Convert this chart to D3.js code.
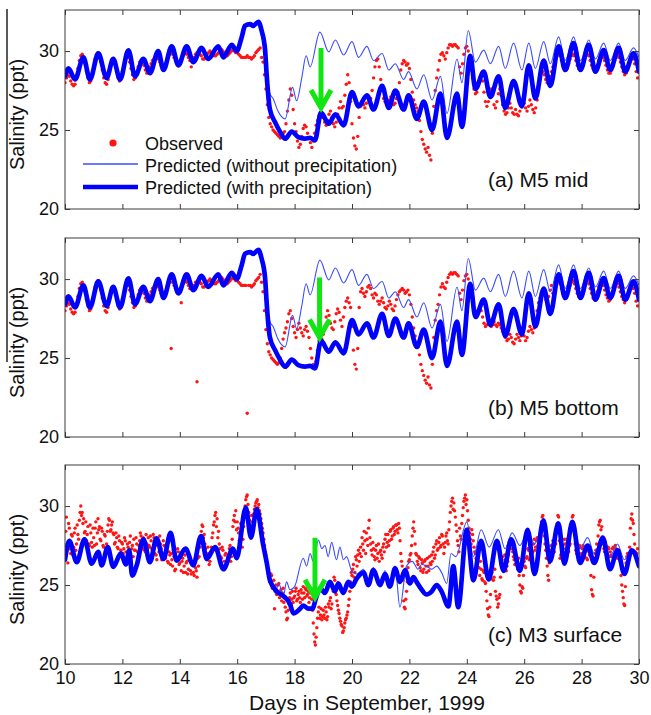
<!DOCTYPE html>
<html>
<head>
<meta charset="utf-8">
<script src="https://cdn.jsdelivr.net/npm/d3@7"></script>
<style>
  body { margin: 0; background: #fff; }
  text { font-family: Arial, "Liberation Sans", sans-serif; fill: #111; }
</style>
</head>
<body>
<svg id="chart" width="651" height="715"></svg>
<script>
// ---------------------------------------------------------------
// Observed salinity (ppt), sampled every 0.05 day from day 10.00
// ---------------------------------------------------------------
const obsStart = 10, obsStep = 0.05;

const obsM5Mid = [
  28.0,28.3,28.5,28.4,28.1,27.9,27.8,27.9,28.3,28.9,29.4,29.7,29.8,29.6,29.2,28.7,28.3,28.0,28.1,28.5, // 10
  29.0,29.5,29.8,29.9,29.7,29.3,28.8,28.3,28.0,27.9,28.2,28.7,29.2,29.5,29.5,29.2,28.7,28.3,28.1,28.3, // 11
  28.7,29.1,29.4,29.6,29.6,29.3,28.9,28.5,28.2,28.3,28.6,29.0,29.3,29.4,29.3,29.1,28.8,28.6,28.7,29.0, // 12
  29.2,29.4,29.5,29.6,29.6,29.5,29.3,29.1,28.9,29.0,29.2,29.5,29.7,29.8,29.9,29.8,29.6,29.4,29.3,29.2, // 13
  29.3,29.5,29.7,29.8,29.9,29.8,29.6,29.4,29.0,29.5,29.6,29.8,29.9,29.9,29.8,29.7,29.5,29.5,29.6,29.8, // 14
  29.9,30.0,29.9,29.8,29.7,29.7,29.8,29.9,30.0,30.1,30.0,29.9,29.8,29.7,29.8,29.9,30.0,30.1,30.0,29.9, // 15
  29.9,29.8,29.7,29.6,29.6,29.6,29.6,29.7,29.6,29.6,29.5,29.6,29.7,29.9,30.0,30.1,30.2,29.6,29.3,28.5, // 16
  27.6,26.6,25.8,25.4,25.2,25.0,24.9,24.8,24.7,24.6,24.5,24.6,24.8,24.9,25.4,26.2,26.9,27.6,27.2,26.3, // 17
  25.4,24.9,24.3,23.9,24.1,24.6,25.1,25.3,25.2,24.8,24.5,24.2,23.9,24.3,24.8,25.3,25.6,25.9,26.1,25.8, // 18
  25.8,25.5,25.3,25.6,26.0,26.2,25.8,25.4,25.2,25.5,26.0,26.4,26.8,26.4,26.5,27.2,27.9,28.5,28.0,26.8, // 19
  25.4,24.5,24.0,23.8,24.6,25.8,26.5,26.8,26.6,26.4,26.7,27.1,26.8,27.0,27.5,28.3,29.0,29.4,29.5,29.0, // 20
  28.2,27.5,27.0,26.8,26.7,26.8,26.9,27.1,26.9,26.6,26.7,27.0,27.4,28.0,28.8,29.2,29.4,29.3,29.1,29.2, // 21
  28.9,28.2,27.4,26.9,26.6,26.4,26.2,25.6,24.9,24.4,24.1,23.8,23.6,23.9,23.4,23.1,24.8,26.5,27.5,28.3, // 22
  28.8,29.4,29.8,29.9,29.7,29.5,29.9,30.2,30.4,30.4,30.3,30.4,30.4,30.3,30.2,29.0,28.6,29.2,29.8,30.2, // 23
  30.3,30.0,29.4,28.8,28.3,27.6,27.3,27.4,27.8,28.3,28.5,28.1,27.4,26.8,26.5,26.8,27.3,27.6,27.2,26.6, // 24
  26.4,26.8,27.3,27.6,27.2,26.6,26.2,26.0,26.1,26.4,26.7,26.4,26.1,26.0,26.3,26.0,25.9,26.2,26.6,26.9, // 25
  26.7,26.4,26.2,26.5,26.9,26.6,26.3,26.1,26.4,26.9,27.6,28.2,28.6,28.7,28.5,28.2,28.0,28.1,28.4,28.7, // 26
  29.0,29.2,29.5,29.7,29.8,29.7,29.4,29.1,28.9,28.8,28.9,29.2,29.5,29.7,29.8,29.7,29.4,29.1,28.9,28.8, // 27
  28.9,29.2,29.5,29.7,29.8,29.7,29.4,29.1,28.9,28.7,28.8,29.1,29.4,29.6,29.7,29.6,29.4,29.1,28.8,28.6, // 28
  28.6,28.8,29.1,29.4,29.6,29.7,29.6,29.3,29.0,28.7,28.5,28.6,28.9,29.2,29.5,29.6,29.5,29.2,28.7,28.3  // 29
];

const obsM5Bottom = [
  28.0,28.3,28.5,28.4,28.1,27.9,27.8,27.9,28.3,28.9,29.4,29.7,29.8,29.6,29.2,28.7,28.3,28.0,28.1,28.5, // 10
  29.0,29.5,29.8,29.9,29.7,29.3,28.8,28.3,28.0,27.9,28.2,28.7,29.2,29.5,29.5,29.2,28.7,28.3,28.1,28.3, // 11
  28.7,29.1,29.4,29.6,29.6,29.3,28.9,28.5,28.2,28.3,28.6,29.0,29.3,29.4,29.3,29.1,28.8,28.6,28.7,29.0, // 12
  29.2,29.4,29.5,29.6,29.6,29.5,29.3,29.1,28.9,29.0,29.2,29.5,29.7,29.8,25.6,29.8,29.6,29.4,29.3,29.2, // 13
  29.3,28.5,29.7,29.8,29.9,29.8,29.6,29.4,29.5,29.5,29.6,29.8,23.5,29.9,29.8,29.7,29.5,29.5,29.6,29.8, // 14
  29.9,30.0,29.9,29.8,29.7,29.7,29.8,29.9,30.0,30.1,30.0,29.9,29.8,29.7,29.8,29.9,30.0,30.1,30.0,29.9, // 15
  29.9,29.8,29.7,29.6,29.6,29.6,29.6,21.5,29.6,29.6,29.5,29.6,29.7,29.9,30.0,30.1,30.3,29.8,29.2,28.0, // 16
  26.8,25.9,25.4,25.2,25.0,24.9,24.8,24.7,24.6,24.7,25.0,25.6,26.2,26.6,26.9,27.3,27.8,28.0,27.5,27.0, // 17
  26.6,26.3,26.8,27.2,26.9,26.6,26.4,26.8,27.0,26.7,26.3,25.6,25.0,24.6,24.4,24.8,25.5,26.1,26.4,26.2, // 18
  26.5,27.0,27.6,28.0,27.7,27.2,26.9,26.8,27.3,27.8,28.1,27.9,27.4,27.0,27.6,28.2,28.6,28.8,28.5,28.2, // 19
  27.0,25.5,24.6,24.3,25.6,28.2,29.2,29.4,29.1,28.9,29.2,29.5,29.6,29.4,29.0,28.8,29.1,29.0,28.6,28.4, // 20
  28.6,28.8,28.5,28.2,28.1,28.3,28.6,28.4,28.1,28.0,28.3,28.7,29.0,29.2,29.3,29.4,29.3,29.1,29.2,29.3, // 21
  29.0,28.4,27.6,26.9,26.4,26.0,25.7,25.2,24.6,24.2,23.9,23.6,23.4,23.8,23.3,23.1,24.6,26.3,27.4,28.0, // 22
  28.4,29.0,29.5,29.7,29.5,29.4,29.8,30.1,30.3,30.4,30.3,30.4,30.4,30.3,30.2,29.1,28.7,29.3,29.9,30.2, // 23
  30.3,30.0,29.5,29.0,28.6,28.0,27.7,27.6,27.9,28.2,28.0,27.6,27.2,27.0,27.1,27.3,27.2,27.0,27.1,27.3, // 24
  27.1,27.0,27.2,27.1,26.9,26.7,26.5,26.3,26.1,26.2,26.5,26.3,26.0,25.9,26.2,26.5,26.3,26.1,26.4,26.7, // 25
  26.4,26.1,26.3,26.7,27.0,26.8,26.6,26.9,27.4,28.0,28.5,28.8,29.1,29.3,29.0,28.7,28.6,28.9,29.3,29.6, // 26
  29.1,29.3,29.6,29.8,29.9,29.7,29.4,29.1,28.9,28.8,29.0,29.3,29.6,29.8,29.9,29.7,29.4,29.1,28.9,28.8, // 27
  29.0,29.3,29.6,29.8,29.9,29.7,29.4,29.1,28.8,28.7,28.9,29.2,29.5,29.7,29.8,29.6,29.3,29.0,28.8,28.6, // 28
  28.7,28.9,29.2,29.5,29.7,29.7,29.5,29.2,28.9,28.7,28.5,28.7,29.0,29.3,29.5,29.6,29.4,29.1,28.6,28.3  // 29
];

// M3 surface is logged twice as often: samples on the 0.05-day grid ...
const obsM3Surface = [
  27.2,29.3,26.4,28.6,27.0,28.1,27.4,28.6,27.6,28.2,29.1,30.0,29.6,29.2,28.4,27.8,28.7,27.5,28.3,27.4, // 10
  28.0,28.6,27.6,29.2,28.7,27.8,28.4,27.4,28.1,27.6,28.8,29.1,28.5,29.0,28.2,27.7,28.0,27.3,27.8,27.2, // 11
  27.6,27.3,27.8,26.6,27.4,27.7,26.2,27.5,27.9,27.2,27.6,26.8,27.8,28.1,27.3,27.9,27.1,27.6,28.0,27.4, // 12
  27.8,27.2,28.0,27.5,26.6,27.7,28.1,27.3,26.9,27.5,26.7,27.2,26.4,26.9,27.0,26.2,26.8,26.0,26.6,27.1, // 13
  26.4,25.9,26.7,26.2,25.8,26.5,26.0,26.8,25.7,26.3,25.6,26.1,25.5,26.2,27.4,28.4,28.7,28.2,27.3,26.6, // 14
  27.0,26.5,27.4,28.3,29.0,29.6,29.2,28.4,27.3,26.7,27.2,26.5,27.0,26.4,26.9,27.5,26.8,28.7,29.4,29.7, // 15
  29.0,28.3,27.6,28.4,27.9,29.3,30.4,30.7,29.6,28.8,29.4,28.7,29.8,30.2,30.4,30.1,29.5,28.9,28.3,27.5, // 16
  26.9,26.2,25.8,25.3,25.6,24.9,23.5,25.0,24.6,25.1,24.4,24.0,24.8,24.3,23.3,22.9,23.8,24.5,24.1,23.9, // 17
  24.3,24.8,24.1,24.6,23.9,24.5,24.9,24.2,24.7,24.4,23.9,24.5,24.1,22.6,21.4,21.7,22.9,23.6,23.1,22.8, // 18
  23.4,22.9,23.3,23.0,23.6,24.2,23.8,24.6,25.3,24.4,23.7,23.2,22.7,22.4,22.1,22.6,22.9,23.3,24.1,25.2, // 19
  25.6,26.3,25.8,26.6,26.9,26.5,27.4,28.0,27.2,27.8,28.3,27.5,29.1,27.6,26.9,27.3,26.6,27.5,27.0,26.5, // 20
  27.2,26.7,27.6,27.9,27.4,28.2,27.8,28.5,28.1,28.7,28.4,28.8,28.3,28.6,27.0,26.2,24.0,23.5,24.6,26.1, // 21
  26.6,27.0,28.1,29.0,27.6,26.9,26.3,26.7,25.9,26.4,26.0,26.6,25.8,26.2,26.8,26.3,26.5,27.4,26.9,27.8, // 22
  27.3,28.0,27.5,28.1,27.0,27.7,28.3,27.6,29.0,30.0,30.5,30.2,29.3,28.4,27.5,28.6,27.9,29.4,30.3,30.7, // 23
  30.4,29.1,28.3,27.6,28.2,27.4,27.0,26.4,26.8,25.6,26.0,25.3,25.8,25.1,24.0,23.1,23.6,25.4,26.1,25.5, // 24
  24.6,24.1,23.8,24.4,26.3,26.8,26.1,26.6,26.2,26.9,27.5,27.8,27.1,26.6,26.9,26.3,26.7,25.0,24.5,24.8, // 25
  26.5,26.1,26.8,27.2,26.7,27.6,27.1,27.9,27.4,28.0,27.3,27.7,29.0,29.4,28.1,27.2,26.2,25.3,26.9,27.5, // 26
  27.8,27.1,27.6,28.9,29.3,26.7,27.0,27.5,27.9,27.3,27.7,27.1,27.6,29.0,29.4,28.4,27.2,27.6,26.9,27.4, // 27
  27.0,27.5,26.8,27.3,26.6,27.1,27.4,24.7,24.3,26.7,27.2,26.9,28.8,29.1,28.7,27.6,27.1,27.5,26.9,27.3, // 28
  27.1,26.8,27.4,26.9,27.3,26.7,27.2,26.5,25.0,24.2,23.7,26.4,27.0,26.6,28.6,29.5,28.9,27.6,26.9,27.3  // 29
];
// ... and the samples half a step later (day 10.025, 10.075, ...)
const obsM3SurfaceHalf = [
  28.4,27.6,28.9,27.3,28.2,26.9,28.3,27.2,28.8,27.9,29.6,29.4,28.9,28.3,29.0,28.2,27.6,28.8,27.7,28.6, // 10
  27.5,29.0,28.3,28.5,27.9,28.6,27.5,28.2,27.3,28.4,29.2,28.4,28.8,28.3,27.6,28.3,27.4,28.1,27.0,27.7, // 11
  27.0,28.0,27.1,27.6,26.9,28.1,27.3,26.8,27.2,28.0,27.1,27.5,28.3,27.4,28.0,27.2,28.2,27.3,27.5,28.1, // 12
  27.3,28.2,27.0,26.9,27.8,27.1,27.6,26.6,27.8,26.8,27.4,26.5,27.1,26.3,26.6,27.2,25.9,26.7,27.3,26.3, // 13
  26.9,26.5,25.8,26.9,26.4,25.7,26.6,25.9,26.4,25.8,26.5,25.9,26.7,26.8,28.0,28.8,28.0,27.6,26.9,27.4, // 14
  26.3,27.1,28.0,28.8,29.4,28.7,28.0,27.6,26.8,27.4,26.2,26.9,26.3,26.8,27.3,26.5,27.9,29.1,29.0,28.5, // 15
  28.6,27.8,28.9,27.4,28.7,30.0,30.6,30.1,29.1,28.4,29.0,29.5,30.0,30.3,29.9,29.7,29.2,28.6,27.9,27.1, // 16
  26.5,25.9,25.2,25.7,24.8,25.3,24.7,24.4,25.0,24.2,24.7,24.5,23.9,23.6,22.8,23.4,24.2,23.8,24.6,24.2, // 17
  24.6,24.0,24.4,24.2,24.7,24.1,24.5,24.8,24.3,24.6,24.2,24.8,23.4,21.9,21.2,22.3,23.3,22.9,23.5,23.0, // 18
  23.1,23.6,22.8,23.8,24.0,23.5,24.9,25.5,24.7,24.0,23.4,22.9,22.5,22.0,22.3,22.8,23.1,23.7,24.6,25.8, // 19
  26.0,25.5,26.8,26.2,27.2,27.0,26.8,27.6,28.4,27.0,27.9,28.6,28.0,27.2,27.7,26.8,27.2,26.7,27.6,27.1, // 20
  26.9,27.4,27.1,28.2,27.7,27.5,28.4,27.9,28.6,28.2,28.8,28.5,28.9,27.8,26.5,25.3,23.6,24.1,25.2,26.5, // 21
  26.9,27.5,28.6,28.4,27.0,26.5,26.8,26.1,26.6,25.8,26.5,26.2,26.7,25.9,26.4,26.9,27.1,26.7,27.6,27.2, // 22
  27.7,27.4,28.2,27.6,27.4,28.1,27.8,28.5,29.6,30.3,29.8,29.7,28.8,27.8,27.1,28.1,28.9,29.9,30.5,30.1, // 23
  29.7,28.6,27.9,28.5,27.8,27.1,26.7,27.2,26.1,26.5,25.4,25.9,25.2,24.6,23.5,23.0,24.4,25.8,25.3,26.0, // 24
  24.3,23.6,24.2,25.5,26.6,26.2,26.9,25.9,26.5,27.3,27.9,27.3,26.8,26.3,26.6,26.0,25.6,24.6,24.9,25.6, // 25
  26.2,26.7,27.3,26.6,27.4,27.0,27.6,27.2,27.8,27.5,27.9,28.4,29.3,28.7,27.6,26.7,25.6,26.4,27.2,27.0, // 26
  27.4,27.7,28.3,29.4,27.8,26.9,27.4,27.1,27.6,27.9,27.2,27.5,28.4,29.3,28.8,27.6,27.0,27.3,27.5,26.8, // 27
  27.3,26.9,27.4,26.7,27.2,26.9,25.6,24.4,25.5,27.0,27.6,28.1,29.0,28.5,27.9,27.3,27.7,27.0,27.4,26.8, // 28
  26.9,27.3,26.7,27.5,26.9,27.1,26.6,25.6,24.6,23.8,24.9,26.8,26.7,27.4,29.2,29.1,28.2,27.1,27.0,26.6  // 29
];

// ---------------------------------------------------------------
// Model predictions (ppt): tidal highs and lows with their days
// ---------------------------------------------------------------
// M5: both runs coincide until the rain event on day 17
const m5BaseDay = [10.00,10.12,10.35,10.64,10.87,11.16,11.45,11.68,11.92,12.21,12.44,12.73,12.96,13.25,13.43,13.72,13.95,14.24,14.47,14.76,14.99,15.34,15.52,15.81,15.98,16.16,16.27,16.45,16.56,16.74,16.85,16.97];
const m5BaseSal = [28.4,28.9,28.2,29.6,28.2,29.85,28.3,29.5,28.2,30.05,28.4,29.5,28.6,30.0,28.8,30.3,29.1,30.3,29.3,30.2,29.5,30.3,29.6,30.4,30.0,30.9,31.6,31.7,31.6,31.85,31.3,30.1];

const m5WithDay = [17.03,17.14,17.32,17.49,17.67,17.90,18.13,18.36,18.54,18.71,18.92,19.19,19.42,19.71,20.00,20.23,20.52,20.75,21.05,21.28,21.51,21.80,21.97,22.26,22.50,22.79,23.08,23.31,23.66,23.83,24.12,24.30,24.59,24.82,25.11,25.34,25.63,25.92,26.16,26.39,26.68,26.91,27.20,27.43,27.72,27.96,28.25,28.48,28.77,29.00,29.29,29.52,29.81,30.00];
const m5WithSal = [28.4,26.3,25.5,24.9,24.45,24.9,24.55,24.45,24.5,24.35,26.1,25.4,26.0,25.3,27.4,26.5,27.2,26.3,27.8,26.4,27.5,26.3,27.2,25.7,26.8,25.0,27.3,24.5,27.3,25.2,29.7,27.6,28.7,27.1,28.4,26.4,28.1,26.5,29.1,27.0,29.4,27.8,30.3,28.8,30.5,28.8,30.4,28.7,30.06,28.8,30.2,28.7,29.85,28.7];

const m5WithoutDay = [17.03,17.14,17.25,17.42,17.67,17.93,18.07,18.25,18.40,18.54,18.88,19.19,19.42,19.71,20.00,20.23,20.52,20.75,21.05,21.28,21.51,21.80,21.97,22.26,22.50,22.79,23.08,23.31,23.66,23.83,24.05,24.30,24.59,24.82,25.11,25.34,25.63,25.92,26.16,26.39,26.68,26.91,27.20,27.43,27.72,27.96,28.25,28.48,28.77,29.00,29.29,29.52,29.81,30.00];
const m5WithoutSal = [28.4,27.3,27.0,26.2,25.7,27.7,26.85,28.3,29.7,29.0,31.2,29.95,30.7,29.75,30.6,29.6,30.3,29.4,29.85,28.8,29.2,28.2,28.7,27.6,28.5,26.9,28.4,26.05,29.5,28.0,31.3,29.3,30.06,29.2,30.3,28.9,30.5,28.8,30.5,28.9,30.6,29.2,30.9,29.4,30.9,29.4,30.7,29.5,30.5,29.4,30.5,29.4,30.2,29.6];

// M3 surface
const m3BaseDay = [10.00,10.15,10.41,10.68,10.93,11.16,11.28,11.49,11.68,11.95,12.12,12.24,12.34,12.50,12.73,12.96,13.19,13.43,13.68,13.89,14.20,14.47,14.74,14.94,15.23,15.52,15.85,15.98,16.30,16.48,16.68,16.90,17.03];
const m3BaseSal = [26.6,27.8,26.45,27.9,26.35,27.1,26.25,27.4,26.15,27.0,26.3,27.2,25.6,26.25,27.9,26.45,27.95,26.65,28.3,26.55,27.3,26.25,28.1,26.65,27.4,26.0,27.3,26.7,29.9,28.0,29.8,27.6,26.4];

const m3WithDay = [17.14,17.38,17.61,17.84,17.96,18.19,18.30,18.48,18.62,18.75,18.89,19.06,19.23,19.41,19.52,19.70,19.87,19.99,20.16,20.40,20.57,20.74,20.98,21.15,21.32,21.50,21.67,21.85,22.02,22.14,22.25,22.43,22.60,22.78,22.95,23.12,23.36,23.53,23.70,24.00,24.23,24.50,24.76,25.05,25.28,25.55,25.85,26.12,26.36,26.67,26.90,27.19,27.40,27.68,27.95,28.21,28.44,28.74,28.99,29.25,29.49,29.75,30.00];
const m3WithSal = [25.3,24.6,24.3,23.8,23.2,23.5,23.7,23.5,23.5,24.2,24.8,24.5,25.2,24.6,25.1,24.5,25.2,24.9,25.4,25.8,25.0,25.95,25.0,25.7,24.9,26.05,25.2,25.95,25.1,25.5,25.2,24.7,24.4,24.6,25.0,24.6,23.65,26.2,23.6,28.5,25.3,27.8,25.35,27.8,25.9,27.9,25.9,28.5,25.7,29.1,26.5,28.9,26.35,29.0,26.4,27.5,26.4,28.0,26.0,27.2,25.7,27.2,26.2];

const m3WithoutDay = [17.14,17.32,17.45,17.61,17.72,17.84,18.00,18.30,18.42,18.54,18.65,18.83,18.95,19.06,19.17,19.29,19.46,19.58,19.70,19.81,19.99,20.16,20.40,20.57,20.74,20.98,21.15,21.32,21.50,21.67,21.90,22.10,22.30,22.43,22.60,22.78,22.95,23.12,23.30,23.45,23.62,24.00,24.23,24.50,24.78,25.10,25.33,25.58,25.85,26.12,26.36,26.70,26.90,27.19,27.40,27.68,27.95,28.21,28.44,28.74,28.99,29.25,29.49,29.75,30.00];
const m3WithoutSal = [25.5,24.5,25.1,24.3,25.2,24.7,24.9,26.7,26.2,27.0,26.5,27.85,27.3,27.5,26.8,27.7,26.6,27.4,26.6,26.8,25.9,25.7,26.0,25.2,26.1,25.2,25.9,25.1,26.2,23.6,26.2,26.5,26.0,26.3,26.2,26.0,26.2,25.8,25.1,27.0,26.8,29.0,26.8,28.5,27.4,28.5,27.3,28.3,27.5,28.4,27.6,29.1,27.4,28.8,27.3,28.9,27.3,28.0,27.0,28.1,26.8,27.6,26.6,27.2,26.3];

// Rain-effect arrows: [day, start salinity, tip salinity]
const arrowM5Mid = [18.92, 30.2, 26.4];
const arrowM5Bottom = [18.87, 30.1, 26.3];
const arrowM3Surface = [18.71, 28.0, 24.2];

// Axes
const dayTicks = [10, 12, 14, 16, 18, 20, 22, 24, 26, 28, 30];
const salTicks = [20, 25, 30];
const salDomain = [20, 32.6];
const dayDomain = [10, 30];

const panelLabels = ["(a) M5 mid", "(b) M5 bottom", "(c) M3 surface"];
const legendLabels = ["Observed", "Predicted (without precipitation)", "Predicted (with precipitation)"];

// ---------------------------------------------------------------
const svg = d3.select("#chart");
const plotLeft = 65, plotRight = 639, plotH = 199;
const panelTops = [10, 238, 465];

const x = d3.scaleLinear().domain(dayDomain).range([plotLeft, plotRight]);

// observation series as [day, salinity] pairs
const gridded = (vals, offset) => vals.map((v, k) => [obsStart + offset + k * obsStep, v]);

const panels = [
  { obs: gridded(obsM5Mid, 0),
    wD: m5BaseDay.concat(m5WithDay), wS: m5BaseSal.concat(m5WithSal),
    nD: m5BaseDay.concat(m5WithoutDay), nS: m5BaseSal.concat(m5WithoutSal),
    arrow: arrowM5Mid },
  { obs: gridded(obsM5Bottom, 0),
    wD: m5BaseDay.concat(m5WithDay), wS: m5BaseSal.concat(m5WithSal),
    nD: m5BaseDay.concat(m5WithoutDay), nS: m5BaseSal.concat(m5WithoutSal),
    arrow: arrowM5Bottom },
  { obs: gridded(obsM3Surface, 0).concat(gridded(obsM3SurfaceHalf, obsStep / 2)),
    wD: m3BaseDay.concat(m3WithDay), wS: m3BaseSal.concat(m3WithSal),
    nD: m3BaseDay.concat(m3WithoutDay), nS: m3BaseSal.concat(m3WithoutSal),
    arrow: arrowM3Surface }
];

const RED = "#ff1414", BLUE = "#0000ff", THIN = "#3a4cff", GREEN = "#12e612", FRAME = "#3a3a3a";

// stray edge rule along the left margin
svg.append("line").attr("x1", 7).attr("x2", 7).attr("y1", 9).attr("y2", 362)
  .attr("stroke", "#000").attr("stroke-width", 1.3);

panels.forEach((p, i) => {
  const top = panelTops[i], bottom = top + plotH;
  const y = d3.scaleLinear().domain(salDomain).range([bottom, top]);
  const g = svg.append("g");

  const clipId = "clip" + i;
  svg.append("clipPath").attr("id", clipId).append("rect")
    .attr("x", plotLeft).attr("y", top).attr("width", plotRight - plotLeft).attr("height", plotH);
  const plot = g.append("g").attr("clip-path", `url(#${clipId})`);

  // observations
  plot.append("g").selectAll("circle").data(p.obs).join("circle")
    .attr("cx", d => x(d[0]))
    .attr("cy", d => y(d[1]))
    .attr("r", 1.7)
    .attr("fill", RED);

  const line = d3.line().x(d => x(d[0])).y(d => y(d[1])).curve(d3.curveMonotoneX);

  plot.append("path").datum(d3.zip(p.nD, p.nS)).attr("d", line)
    .attr("fill", "none").attr("stroke", THIN).attr("stroke-width", 1.1);
  plot.append("path").datum(d3.zip(p.wD, p.wS)).attr("d", line)
    .attr("fill", "none").attr("stroke", BLUE).attr("stroke-width", 4.7)
    .attr("stroke-linejoin", "round").attr("stroke-linecap", "round");

  // axes with inward ticks on all four sides
  const styleAxis = sel => {
    sel.select(".domain").remove();
    sel.attr("color", FRAME).attr("font-size", 18)
      .attr("font-family", "Arial, 'Liberation Sans', sans-serif");
    sel.selectAll("text").attr("fill", "#111");
  };
  g.append("g").attr("transform", `translate(0,${bottom})`)
    .call(d3.axisBottom(x).tickValues(dayTicks).tickSizeInner(-5).tickSizeOuter(0).tickPadding(7)
      .tickFormat(i === 2 ? d3.format("d") : () => ""))
    .call(styleAxis);
  g.append("g").attr("transform", `translate(0,${top})`)
    .call(d3.axisTop(x).tickValues(dayTicks).tickSizeInner(-5).tickSizeOuter(0).tickFormat(() => ""))
    .call(styleAxis);
  g.append("g").attr("transform", `translate(${plotLeft},0)`)
    .call(d3.axisLeft(y).tickValues(salTicks).tickSizeInner(-5).tickSizeOuter(0).tickPadding(6)
      .tickFormat(d3.format("d")))
    .call(styleAxis);
  g.append("g").attr("transform", `translate(${plotRight},0)`)
    .call(d3.axisRight(y).tickValues(salTicks).tickSizeInner(-5).tickSizeOuter(0).tickFormat(() => ""))
    .call(styleAxis);

  g.append("rect").attr("x", plotLeft).attr("y", top)
    .attr("width", plotRight - plotLeft).attr("height", plotH)
    .attr("fill", "none").attr("stroke", FRAME).attr("stroke-width", 1);

  // y title
  g.append("text")
    .attr("transform", `translate(24,${top + plotH / 2 + 5}) rotate(-90)`)
    .attr("text-anchor", "middle").attr("font-size", 20)
    .text("Salinity (ppt)");

  // panel label
  g.append("text").attr("x", 488).attr("y", top + 177)
    .attr("font-size", 21).text(panelLabels[i]);

  // rain-effect arrow
  const [ad, a0, a1] = p.arrow;
  const ax = x(ad), ay0 = y(a0), ay1 = y(a1);
  g.append("path")
    .attr("d", `M${ax},${ay0}L${ax},${ay1 - 2}M${ax - 10},${ay1 - 18}L${ax},${ay1}L${ax + 10},${ay1 - 18}`)
    .attr("fill", "none").attr("stroke", GREEN).attr("stroke-width", 5)
    .attr("stroke-linejoin", "miter");
});

// x title
svg.append("text").attr("x", 367).attr("y", 710).attr("text-anchor", "middle")
  .attr("font-size", 21).text("Days in September, 1999");

// legend (inside top panel)
const lg = svg.append("g");
lg.append("circle").attr("cx", 113).attr("cy", 143).attr("r", 3.6).attr("fill", RED);
lg.append("line").attr("x1", 83).attr("x2", 138).attr("y1", 164).attr("y2", 164)
  .attr("stroke", THIN).attr("stroke-width", 1.3);
lg.append("line").attr("x1", 83).attr("x2", 138).attr("y1", 187).attr("y2", 187)
  .attr("stroke", BLUE).attr("stroke-width", 4.7);
[150, 172, 194].forEach((yy, k) => {
  lg.append("text").attr("x", 145).attr("y", yy).attr("font-size", 18).text(legendLabels[k]);
});
</script>
</body>
</html>
